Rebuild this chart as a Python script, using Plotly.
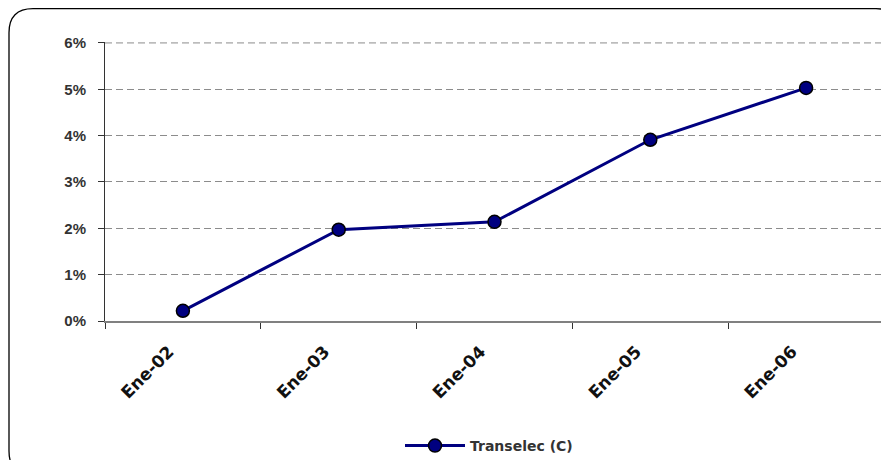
import plotly.graph_objects as go

categories = ["Ene-02", "Ene-03", "Ene-04", "Ene-05", "Ene-06"]
values = [0.0022, 0.0197, 0.0214, 0.0391, 0.0503]
series_name = "Transelec (C)"
y_ticks = [0, 0.01, 0.02, 0.03, 0.04, 0.05, 0.06]
y_tick_labels = ["0%", "1%", "2%", "3%", "4%", "5%", "6%"]

OFF = 8  # page body margin
W, H = 889 - OFF, 460 - OFF
L, T = 105 - OFF, 42 - OFF
R = W - (884 - OFF)
B = H - (321 - OFF)
pw, ph = W - L - R, H - T - B

def px(x):
    return (x - OFF - L) / pw

def py(y):
    return (H - B - (y - OFF)) / ph

fig = go.Figure()
fig.add_trace(go.Scatter(
    x=categories, y=values, name=series_name, mode="lines+markers",
    line=dict(color="#000080", width=3),
    marker=dict(size=13, color="#000080", line=dict(color="#000000", width=1.5)),
))

# rounded chart frame
x0, y0, x1, y1, r = 9, 8.7, 900, 475, 24
path = (f"M {px(x0)} {py(y0 + r)} Q {px(x0)} {py(y0)} {px(x0 + r)} {py(y0)} "
        f"L {px(x1 - r)} {py(y0)} Q {px(x1)} {py(y0)} {px(x1)} {py(y0 + r)} "
        f"L {px(x1)} {py(y1 - r)} Q {px(x1)} {py(y1)} {px(x1 - r)} {py(y1)} "
        f"L {px(x0 + r)} {py(y1)} Q {px(x0)} {py(y1)} {px(x0)} {py(y1 - r)} Z")
fig.add_shape(type="path", xref="paper", yref="paper", path=path,
              line=dict(color="#000000", width=1.3), layer="below")

# top gridline (plotly omits the grid line at the range edge)
fig.add_shape(type="line", xref="paper", yref="y", x0=0, x1=1,
              y0=y_ticks[-1], y1=y_ticks[-1],
              line=dict(color="#8c8c8c", width=1, dash="7px,4px"), layer="below")

fig.update_layout(
    width=W, height=H,
    margin=dict(l=L, r=R, t=T, b=B, autoexpand=False),
    paper_bgcolor="white", plot_bgcolor="white",
    font=dict(family="Liberation Sans, Arial, sans-serif", color="#333333"),
    showlegend=True,
    legend=dict(orientation="h", xref="container", yref="container",
                x=(489 - OFF) / W, xanchor="center",
                y=1 - (446 - OFF) / H, yanchor="middle",
                font=dict(size=14, color="#333333", family="DejaVu Sans, sans-serif",
                          weight="bold"),
                itemwidth=60),
    xaxis=dict(
        type="category", range=[-0.5, 4.5], automargin=False,
        showgrid=False, showline=True, linecolor="#808080", linewidth=2,
        ticks="outside", tickson="boundaries", ticklen=6, tickcolor="#333333", tickwidth=1,
        tickangle=-45, ticklabelstandoff=12, ticklabelshift=-14,
        tickfont=dict(size=17, color="#111111", family="DejaVu Sans, sans-serif", weight="bold"),
        zeroline=False,
    ),
    yaxis=dict(
        range=[0, 0.0602], tickvals=y_ticks, ticktext=y_tick_labels, automargin=False,
        showgrid=True, gridcolor="#8c8c8c", griddash="7px,4px", gridwidth=1,
        showline=True, linecolor="#333333", linewidth=1,
        ticks="outside", ticklen=6, tickcolor="#333333", ticklabelstandoff=9,
        tickfont=dict(size=15, color="#333333", weight="bold"),
        zeroline=False,
    ),
)

fig.write_html("out.html")
